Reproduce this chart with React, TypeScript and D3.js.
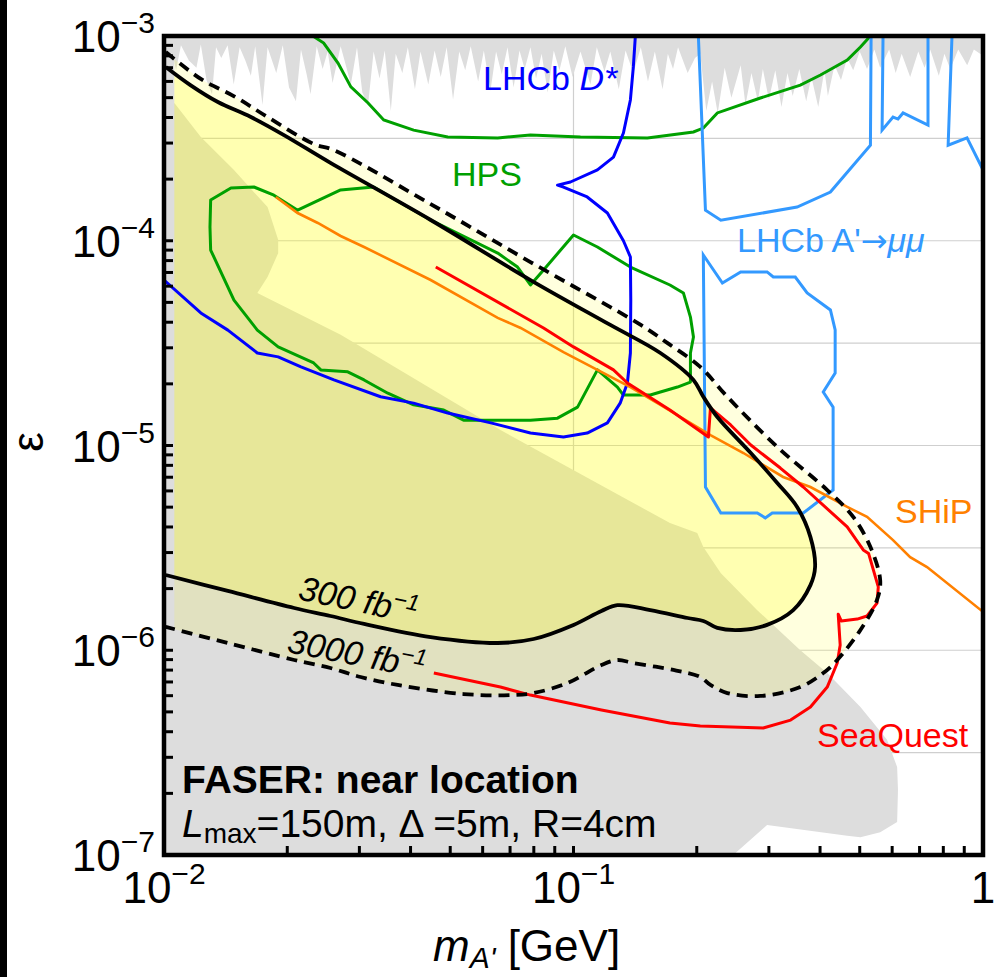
import React from "react";
import * as d3 from "d3";

type P = [number, number];

// ---------- data (mass in GeV, epsilon) ----------
const topBand: P[] = [
  [0.0100, 8.0e-4], [0.0104, 9.0e-4], [0.0107, 6.8e-4], [0.0110, 9.0e-4], [0.0115, 7.6e-4], [0.0120, 7.0e-4],
  [0.0123, 9.1e-4], [0.0127, 6.1e-4], [0.0131, 5.2e-4], [0.0134, 8.8e-4], [0.0138, 7.8e-4], [0.0143, 9.0e-4],
  [0.0148, 5.8e-4], [0.0153, 8.8e-4], [0.0158, 7.6e-4], [0.0163, 6.4e-4], [0.0167, 8.9e-4], [0.0174, 4.6e-4],
  [0.0179, 8.8e-4], [0.0188, 6.6e-4], [0.0195, 9.0e-4], [0.0202, 5.6e-4], [0.0210, 4.8e-4], [0.0216, 8.6e-4],
  [0.0223, 6.5e-4], [0.0228, 5.2e-4], [0.0236, 8.9e-4], [0.0244, 6.9e-4], [0.0251, 8.4e-4], [0.0258, 5.9e-4],
  [0.0270, 8.9e-4], [0.0279, 7.0e-4], [0.0286, 5.8e-4], [0.0296, 8.8e-4], [0.0305, 5.3e-4], [0.0315, 4.6e-4],
  [0.0325, 8.4e-4], [0.0336, 6.2e-4], [0.0346, 8.5e-4], [0.0358, 4.3e-4], [0.0368, 8.2e-4], [0.0382, 6.6e-4],
  [0.0394, 8.8e-4], [0.0410, 5.5e-4], [0.0423, 8.4e-4], [0.0442, 5.8e-4], [0.0458, 8.5e-4], [0.0474, 6.3e-4],
  [0.0490, 8.8e-4], [0.0508, 4.9e-4], [0.0526, 8.4e-4], [0.0544, 6.8e-4], [0.0561, 8.9e-4], [0.0585, 6.0e-4],
  [0.0604, 8.5e-4], [0.0627, 5.4e-4], [0.0647, 8.4e-4], [0.0668, 6.5e-4], [0.0690, 8.8e-4], [0.0714, 5.6e-4],
  [0.0738, 8.5e-4], [0.0760, 6.9e-4], [0.0785, 8.8e-4], [0.0810, 6.2e-4], [0.0836, 8.2e-4], [0.0865, 5.3e-4],
  [0.0895, 8.5e-4], [0.0924, 6.8e-4], [0.0955, 8.9e-4], [0.0995, 6.3e-4], [0.104, 8.4e-4], [0.110, 5.8e-4],
  [0.114, 8.8e-4], [0.119, 6.7e-4], [0.123, 8.4e-4], [0.129, 5.5e-4], [0.134, 8.5e-4], [0.140, 6.6e-4],
  [0.146, 8.8e-4], [0.152, 6.0e-4], [0.158, 8.4e-4], [0.165, 5.5e-4], [0.170, 8.2e-4], [0.175, 6.9e-4],
  [0.180, 8.8e-4], [0.190, 6.6e-4], [0.198, 7.8e-4], [0.204, 8.2e-4], [0.211, 4.3e-4], [0.218, 6.0e-4],
  [0.225, 4.2e-4], [0.234, 7.0e-4], [0.243, 5.0e-4], [0.256, 7.2e-4], [0.263, 4.6e-4], [0.272, 6.6e-4],
  [0.282, 4.8e-4], [0.290, 6.9e-4], [0.300, 4.9e-4], [0.311, 6.8e-4], [0.322, 4.5e-4], [0.333, 6.6e-4],
  [0.343, 5.1e-4], [0.356, 6.9e-4], [0.370, 4.8e-4], [0.381, 6.3e-4], [0.396, 4.5e-4], [0.410, 6.8e-4],
  [0.418, 5.1e-4], [0.434, 7.2e-4], [0.450, 6.1e-4], [0.466, 7.8e-4], [0.482, 6.8e-4], [0.500, 8.4e-4],
  [0.521, 6.9e-4], [0.543, 8.6e-4], [0.561, 7.0e-4], [0.590, 8.6e-4], [0.612, 6.6e-4], [0.633, 8.2e-4],
  [0.664, 6.3e-4], [0.695, 8.4e-4], [0.720, 7.0e-4], [0.743, 8.6e-4], [0.780, 6.4e-4], [0.805, 8.2e-4],
  [0.832, 6.9e-4], [0.870, 8.6e-4], [0.915, 7.2e-4], [0.950, 8.6e-4], [1.0, 8.0e-4],
];

const grayLower: P[] = [
  [0.01, 1e-7], [0.01, 1e-3], [0.0106, 1e-3], [0.0106, 4.71e-4], [0.0123, 3.21e-4], [0.0148, 2.22e-4],
  [0.0179, 1.46e-4], [0.0190, 1.01e-4], [0.0190, 8.7e-5], [0.0179, 6.65e-5], [0.0169, 5.56e-5],
  [0.0270, 3.47e-5], [0.0663, 1.19e-5], [0.172, 4.18e-6], [0.2005, 3.74e-6], [0.2075, 3.19e-6],
  [0.229, 2.38e-6], [0.281, 1.57e-6], [0.358, 1.0e-6], [0.4165, 7.74e-7], [0.502, 5.28e-7], [0.583, 3.65e-7],
  [0.617, 2.69e-7], [0.620, 2.08e-7], [0.617, 1.45e-7], [0.561, 1.29e-7], [0.502, 1.22e-7], [0.466, 1.24e-7],
  [0.297, 1.40e-7], [0.2455, 1e-7],
];

const faser300: P[] = [
  [0.0101, 7.06e-4], [0.0116, 5.76e-4], [0.01354, 4.76e-4], [0.0163, 4.02e-4], [0.01963, 3.28e-4],
  [0.0255, 2.40e-4], [0.0448, 1.263e-4], [0.0785, 6.43e-5], [0.123, 3.88e-5], [0.163, 2.83e-5],
  [0.1963, 2.09e-5], [0.2075, 1.73e-5], [0.2245, 1.378e-5], [0.271, 9.19e-6], [0.3145, 6.56e-6],
  [0.3516, 5.01e-6], [0.379, 3.57e-6], [0.389, 2.55e-6], [0.379, 2.08e-6], [0.344, 1.57e-6],
  [0.297, 1.33e-6], [0.256, 1.256e-6], [0.2245, 1.285e-6], [0.2075, 1.39e-6], [0.190, 1.437e-6],
  [0.154, 1.57e-6], [0.128, 1.66e-6], [0.117, 1.556e-6], [0.100, 1.33e-6], [0.0799, 1.135e-6],
  [0.0653, 1.085e-6], [0.0448, 1.16e-6], [0.0308, 1.344e-6], [0.0255, 1.47e-6], [0.0208, 1.608e-6],
  [0.01432, 1.948e-6], [0.0101, 2.33e-6],
];

const faser3000: P[] = [
  [0.0101, 8.35e-4], [0.0123, 6.17e-4], [0.0148, 5.09e-4], [0.0179, 4.02e-4], [0.0232, 2.97e-4],
  [0.0260, 2.77e-4], [0.0448, 1.51e-4], [0.0785, 7.87e-5], [0.146, 3.88e-5], [0.1694, 3.17e-5],
  [0.204, 2.42e-5], [0.2375, 1.73e-5], [0.3145, 9.84e-6], [0.4165, 6.06e-6], [0.482, 4.48e-6],
  [0.531, 3.19e-6], [0.561, 2.20e-6], [0.551, 1.76e-6], [0.502, 1.256e-6], [0.4406, 8.96e-7],
  [0.4073, 7.74e-7], [0.358, 6.61e-7], [0.286, 5.98e-7], [0.2375, 6.18e-7], [0.216, 6.77e-7],
  [0.204, 7.40e-7], [0.1754, 8.01e-7], [0.140, 8.66e-7], [0.128, 8.96e-7], [0.117, 8.47e-7],
  [0.0967, 6.92e-7], [0.0799, 6.18e-7], [0.0702, 6.04e-7], [0.0539, 6.11e-7], [0.0372, 6.77e-7],
  [0.0302, 7.40e-7], [0.0255, 8.19e-7], [0.0208, 8.96e-7], [0.01432, 1.085e-6], [0.0101, 1.30e-6],
];

const lhcbDstar: P[] = [
  [0.01, 6.43e-5], [0.0123, 4.44e-5], [0.01432, 3.66e-5], [0.0169, 2.83e-5], [0.0190, 2.71e-5],
  [0.0216, 2.42e-5], [0.026, 2.09e-5], [0.0338, 1.73e-5], [0.0407, 1.61e-5], [0.0493, 1.44e-5],
  [0.0628, 1.29e-5], [0.0785, 1.15e-5], [0.0945, 1.10e-5], [0.108, 1.15e-5], [0.121, 1.29e-5],
  [0.130, 1.61e-5], [0.1354, 2.02e-5], [0.1377, 2.83e-5], [0.138, 5.13e-5], [0.1377, 8.33e-5],
  [0.1324, 1.0e-4], [0.121, 1.366e-4], [0.108, 1.636e-4], [0.0945, 1.83e-4], [0.0914, 1.87e-4],
  [0.0983, 1.936e-4], [0.1144, 2.22e-4], [0.1252, 2.56e-4], [0.1324, 3.36e-4], [0.1377, 4.87e-4],
  [0.140, 7.06e-4], [0.1416, 1e-3],
];

const hpsUpper: P[] = [
  [0.0231, 1e-3], [0.02455, 9.24e-4], [0.0266, 7.38e-4], [0.0286, 5.64e-4], [0.0315, 4.71e-4],
  [0.0344, 3.89e-4], [0.0407, 3.47e-4], [0.0493, 3.21e-4], [0.0653, 3.18e-4], [0.0785, 3.28e-4],
  [0.104, 3.21e-4], [0.1515, 3.18e-4], [0.1963, 3.40e-4], [0.2075, 3.55e-4], [0.2245, 4.21e-4],
  [0.286, 4.98e-4], [0.358, 5.76e-4], [0.401, 6.45e-4], [0.466, 7.63e-4], [0.502, 8.84e-4], [0.531, 1e-3],
];

const hpsLoop: P[] = [
  [0.01295, 1.167e-4], [0.0130, 1.58e-4], [0.01457, 1.81e-4], [0.01658, 1.83e-4], [0.01855, 1.67e-4],
  [0.0212, 1.41e-4], [0.0270, 1.77e-4], [0.0325, 1.83e-4], [0.0368, 1.58e-4], [0.0448, 1.263e-4],
  [0.0653, 8.71e-5], [0.0730, 7.44e-5], [0.0785, 6.08e-5], [0.0845, 7.2e-5], [0.1, 1.067e-4],
  [0.1144, 9.32e-5], [0.1377, 7.44e-5], [0.172, 6.08e-5], [0.1855, 5.56e-5], [0.193, 4.24e-5],
  [0.1963, 3.39e-5], [0.193, 2.83e-5], [0.193, 2.04e-5], [0.1794, 1.93e-5], [0.163, 1.825e-5],
  [0.154, 1.764e-5], [0.1324, 1.764e-5], [0.128, 1.93e-5], [0.1144, 2.34e-5], [0.1023, 1.54e-5],
  [0.0914, 1.36e-5], [0.0785, 1.33e-5], [0.0539, 1.33e-5], [0.0482, 1.49e-5], [0.0407, 1.58e-5],
  [0.0352, 1.80e-5], [0.0308, 2.09e-5], [0.0281, 2.29e-5], [0.02415, 2.34e-5], [0.0232, 2.53e-5],
  [0.0190, 3.03e-5], [0.0169, 3.66e-5], [0.01482, 5.13e-5], [0.0130, 9.01e-5],
];

const lhcbMuA: P[] = [[0.2018, 1e-3], [0.210, 1.41e-4], [0.229, 1.26e-4], [0.3516, 1.46e-4], [0.424, 1.73e-4], [0.531, 2.93e-4], [0.533, 1e-3]];
const lhcbMuB: P[] = [[0.570, 1e-3], [0.567, 3.47e-4], [0.603, 4.02e-4], [0.620, 3.93e-4], [0.638, 4.21e-4], [0.734, 3.67e-4], [0.734, 1e-3]];
const lhcbMuC: P[] = [[0.840, 1e-3], [0.822, 2.93e-4], [0.914, 3.18e-4], [1.0, 2.22e-4]];
const lhcbMuD: P[] = [
  [0.2075, 8.52e-5], [0.231, 6.22e-5], [0.256, 7.04e-5], [0.297, 7.04e-5], [0.3075, 6.65e-5], [0.348, 6.65e-5],
  [0.372, 5.56e-5], [0.424, 4.59e-5], [0.4355, 3.67e-5], [0.4355, 2.26e-5], [0.4073, 1.825e-5], [0.4305, 1.54e-5],
  [0.4305, 6.06e-6], [0.364, 4.68e-6], [0.3057, 4.68e-6], [0.294, 4.43e-6], [0.281, 4.68e-6], [0.229, 4.68e-6],
  [0.210, 6.27e-6],
];

const ship: P[] = [
  [0.01876, 1.636e-4], [0.0212, 1.366e-4], [0.02375, 1.221e-4], [0.0270, 1.055e-4], [0.0308, 9.32e-5],
  [0.0448, 6.43e-5], [0.0653, 4.20e-5], [0.0743, 3.75e-5], [0.0945, 2.86e-5], [0.1377, 1.93e-5],
  [0.163, 1.58e-5], [0.216, 1.125e-5], [0.260, 9.19e-6], [0.325, 7.02e-6], [0.379, 6.27e-6],
  [0.466, 5.01e-6], [0.521, 4.48e-6], [0.603, 3.45e-6], [0.664, 2.85e-6], [0.730, 2.55e-6], [1.0, 1.54e-6],
];

const seaquest: P[] = [
  [0.0461, 7.44e-5], [0.0845, 3.75e-5], [0.1, 3.03e-5], [0.1252, 2.34e-5], [0.1354, 2.02e-5], [0.172, 1.49e-5],
  [0.2135, 1.10e-5], [0.216, 1.525e-5], [0.242, 1.26e-5], [0.271, 1.005e-5], [0.320, 7.76e-6], [0.364, 6.27e-6],
  [0.466, 4.0e-6], [0.510, 3.09e-6], [0.5255, 2.97e-6], [0.555, 2.04e-6], [0.551, 1.70e-6], [0.521, 1.47e-6],
  [0.493, 1.42e-6], [0.4506, 1.39e-6], [0.443, 1.50e-6], [0.448, 1.06e-6], [0.4406, 8.66e-7], [0.4165, 6.61e-7],
  [0.379, 5.28e-7], [0.339, 4.56e-7], [0.2906, 4.17e-7], [0.204, 4.27e-7], [0.172, 4.41e-7], [0.117, 5.11e-7],
  [0.0785, 6.04e-7], [0.0663, 6.61e-7], [0.0456, 7.74e-7],
];

const yTickLabels = [
  { v: 1e-3, sup: "−3" }, { v: 1e-4, sup: "−4" }, { v: 1e-5, sup: "−5" }, { v: 1e-6, sup: "−6" }, { v: 1e-7, sup: "−7" },
];
const xTickLabels = [
  { v: 0.01, base: "10", sup: "−2" }, { v: 0.1, base: "10", sup: "−1" }, { v: 1, base: "1", sup: "" },
];
const yGridValues = [3.162e-4, 1e-4, 3.162e-5, 1e-5, 3.162e-6, 1e-6, 3.162e-7];
const xGridValues = [0.1];
const fillStartMass = 0.0106;

const FONT = "'Liberation Sans', Arial, Helvetica, sans-serif";

export default function App() {
  const W = 999, H = 977;
  const X0 = 164, X1 = 983, Y0 = 36, Y1 = 855;
  const x = d3.scaleLog().domain([0.01, 1]).range([X0, X1]);
  const y = d3.scaleLog().domain([1e-7, 1e-3]).range([Y1, Y0]);
  const lin = d3.line<P>().x((d) => x(d[0])).y((d) => y(d[1]));
  const smooth = d3.line<P>().x((d) => x(d[0])).y((d) => y(d[1])).curve(d3.curveCatmullRom.alpha(0.5));
  const closedLin = (pts: P[]) => (lin(pts) || "") + "Z";

  const xt = x.ticks();
  const yt = y.ticks();
  const bandPoly: P[] = [[0.01, 1e-3], ...topBand, [1, 1e-3]];

  return (
    <svg width={W} height={H} style={{ position: "absolute", left: 0, top: 0, background: "#fff" }} fontFamily={FONT}>
      <defs>
        <clipPath id="plot"><rect x={X0} y={Y0} width={X1 - X0} height={Y1 - Y0} /></clipPath>
        <clipPath id="fillclip"><rect x={x(fillStartMass)} y={Y0} width={X1 - x(fillStartMass)} height={Y1 - Y0} /></clipPath>
      </defs>
      <rect x={0} y={0} width={W} height={H} fill="#fff" />
      <rect x={0} y={0} width={7} height={H} fill="#000" />

      <g clipPath="url(#plot)">
        {yGridValues.map((v, i) => (
          <line key={"gy" + i} x1={X0} x2={X1} y1={y(v)} y2={y(v)} stroke="#cfcfcf" strokeWidth={1.2} />
        ))}
        {xGridValues.map((v, i) => (
          <line key={"gx" + i} x1={x(v)} x2={x(v)} y1={Y0} y2={Y1} stroke="#cfcfcf" strokeWidth={1.2} />
        ))}
        <path d={closedLin(bandPoly)} fill="#dddddd" />
        <path d={closedLin(grayLower)} fill="#dddddd" />
        <g clipPath="url(#fillclip)">
          <path d={(smooth(faser3000) || "") + "Z"} fill="#ffff00" fillOpacity={0.13} />
          <path d={(smooth(faser300) || "") + "Z"} fill="#ffff00" fillOpacity={0.2} />
        </g>

        <path d={lin(hpsUpper) || ""} fill="none" stroke="#00a000" strokeWidth={3} />
        <path d={closedLin(hpsLoop)} fill="none" stroke="#00a000" strokeWidth={3} strokeLinejoin="round" />
        <path d={lin(lhcbDstar) || ""} fill="none" stroke="#0000ff" strokeWidth={3} strokeLinejoin="round" />
        {[lhcbMuA, lhcbMuB, lhcbMuC].map((pts, i) => (
          <path key={"mu" + i} d={lin(pts) || ""} fill="none" stroke="#3399ff" strokeWidth={3} />
        ))}
        <path d={closedLin(lhcbMuD)} fill="none" stroke="#3399ff" strokeWidth={3} />
        <path d={lin(ship) || ""} fill="none" stroke="#ff8000" strokeWidth={2.6} />
        <path d={lin(seaquest) || ""} fill="none" stroke="#ff0000" strokeWidth={3} strokeLinejoin="round" />

        <path d={smooth(faser300) || ""} fill="none" stroke="#000" strokeWidth={3.8} />
        <path d={smooth(faser3000) || ""} fill="none" stroke="#000" strokeWidth={3.8} strokeDasharray="11 7" />
      </g>

      {/* ticks */}
      {yt.map((v, i) => (
        <line key={"ty" + i} x1={X0} x2={X0 + 9} y1={y(v)} y2={y(v)} stroke="#000" strokeWidth={3} />
      ))}
      {xt.map((v, i) => (
        <line key={"tx" + i} x1={x(v)} x2={x(v)} y1={Y1} y2={Y1 - 9} stroke="#000" strokeWidth={3} />
      ))}
      <rect x={X0} y={Y0} width={X1 - X0} height={Y1 - Y0} fill="none" stroke="#000" strokeWidth={4.5} />

      {/* tick labels */}
      {yTickLabels.map((t, i) => (
        <text key={"yl" + i} x={155} y={y(t.v) + 16} textAnchor="end" fontSize={44} fill="#000">
          10<tspan dy={-19} fontSize={30}>{t.sup}</tspan>
        </text>
      ))}
      {xTickLabels.map((t, i) => (
        <text key={"xl" + i} x={x(t.v)} y={903} textAnchor="middle" fontSize={44} fill="#000">
          {t.base}
          {t.sup ? <tspan dy={-19} fontSize={30}>{t.sup}</tspan> : null}
        </text>
      ))}

      {/* axis titles */}
      <text x={433} y={961} fontSize={44} fill="#000">
        <tspan fontStyle="italic">m</tspan>
        <tspan fontStyle="italic" fontSize={30} dy={7}>A'</tspan>
        <tspan dy={-7}> [GeV]</tspan>
      </text>
      <text transform="translate(43,442) rotate(-90)" textAnchor="middle" fontSize={44} fill="#000">ε</text>

      {/* curve labels */}
      <text x={483} y={90} fontSize={34} fill="#0000ff">LHCb <tspan fontStyle="italic">D*</tspan></text>
      <text x={452} y={186} fontSize={34} fill="#00a000">HPS</text>
      <text x={737} y={252} fontSize={34} fill="#3399ff">
        LHCb A'<tspan fontFamily="'DejaVu Sans', sans-serif" fontSize={32}>→</tspan><tspan fontStyle="italic">μμ</tspan>
      </text>
      <text x={895} y={523} fontSize={34} fill="#ff8000">SHiP</text>
      <text x={817} y={747} fontSize={34} fill="#ff0000">SeaQuest</text>

      <text transform="translate(297,599) rotate(12)" fontSize={34} fontStyle="italic" fill="#000">
        300 fb<tspan dy={-13} fontSize={23}>−1</tspan>
      </text>
      <text transform="translate(286,652) rotate(11)" fontSize={34} fontStyle="italic" fill="#000">
        3000 fb<tspan dy={-13} fontSize={23}>−1</tspan>
      </text>

      <text x={182} y={793} fontSize={39} fontWeight="bold" fill="#000">FASER: near location</text>
      <text x={182} y={837} fontSize={39} fill="#000">
        <tspan fontStyle="italic">L</tspan>
        <tspan fontSize={28} dy={6}>max</tspan>
        <tspan dy={-6}>=150m, Δ =5m, R=4cm</tspan>
      </text>
    </svg>
  );
}
